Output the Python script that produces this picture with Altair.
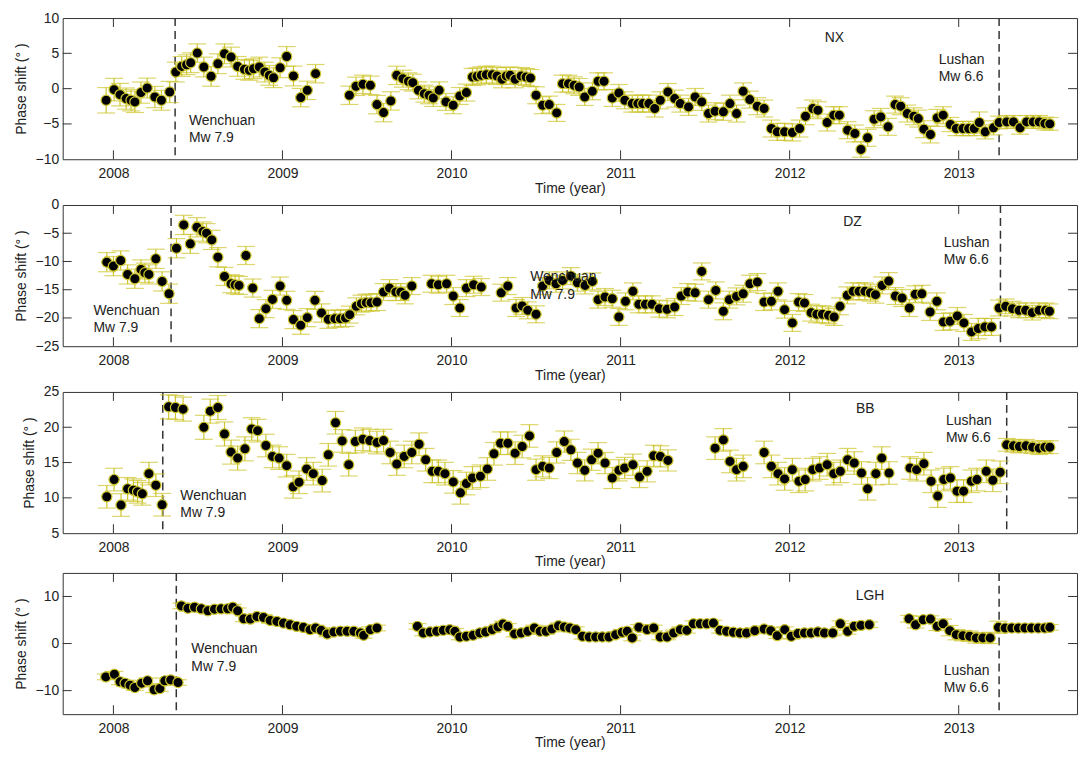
import altair as alt
import pandas as pd

FONT = "Liberation Sans"
YEL = "#cdc52c"
INK = "#222222"
X_DOMAIN = [2007.7, 2013.7]
YEARS = [2008, 2009, 2010, 2011, 2012, 2013]

# (decimal year, phase shift in degrees, error half-length)
nx = [
    (2007.957, -1.65, 1.8), (2008.004, -0.14, 1.6), (2008.039, -0.85, 1.6), (2008.075, -1.41, 1.5),
    (2008.104, -1.65, 1.5), (2008.127, -1.88, 1.5), (2008.163, -0.56, 1.5), (2008.200, 0.09, 1.4),
    (2008.245, -1.18, 1.5), (2008.284, -1.65, 1.4), (2008.333, -0.47, 1.5),
    (2008.369, 2.35, 1.4), (2008.404, 3.15, 1.4), (2008.433, 3.39, 1.4), (2008.457, 3.67, 1.4),
    (2008.496, 5.04, 1.3), (2008.535, 3.06, 1.4), (2008.578, 1.74, 1.4), (2008.618, 3.53, 1.4),
    (2008.657, 4.94, 1.4), (2008.696, 4.47, 1.4), (2008.735, 3.15, 1.4), (2008.775, 2.73, 1.4),
    (2008.804, 2.59, 1.4), (2008.829, 2.82, 1.4), (2008.863, 3.06, 1.4), (2008.896, 2.35, 1.4),
    (2008.922, 1.88, 1.4), (2008.947, 1.55, 1.4), (2008.986, 2.96, 1.4), (2009.025, 4.56, 1.4),
    (2009.065, 1.79, 1.4), (2009.108, -1.27, 1.3), (2009.147, -0.24, 1.3), (2009.196, 2.12, 1.3),
    (2009.396, -0.94, 1.3), (2009.435, 0.33, 1.3), (2009.476, 0.61, 1.3), (2009.520, 0.47, 1.3),
    (2009.559, -2.26, 1.3), (2009.598, -3.39, 1.3), (2009.641, -1.74, 1.3), (2009.676, 1.88, 1.3),
    (2009.712, 1.41, 1.2), (2009.745, 1.04, 1.2), (2009.771, 0.85, 1.2), (2009.804, -0.24, 1.2),
    (2009.839, -0.71, 1.2), (2009.867, -0.94, 1.2), (2009.892, -1.32, 1.2), (2009.927, -0.24, 1.2),
    (2009.967, -1.88, 1.2), (2010.010, -2.35, 1.2), (2010.049, -1.04, 1.2), (2010.088, -0.56, 1.2),
    (2010.124, 1.65, 1.2), (2010.151, 1.74, 1.2), (2010.176, 1.88, 1.2), (2010.206, 1.98, 1.2),
    (2010.241, 1.98, 1.2), (2010.269, 1.79, 1.2), (2010.298, 1.32, 1.2), (2010.324, 1.79, 1.2),
    (2010.347, 1.88, 1.2), (2010.376, 1.32, 1.2), (2010.412, 1.79, 1.2), (2010.441, 1.65, 1.2),
    (2010.467, 1.51, 1.2), (2010.500, -0.94, 1.2), (2010.539, -2.35, 1.2), (2010.578, -2.26, 1.2),
    (2010.622, -3.44, 1.2), (2010.657, 0.71, 1.2), (2010.692, 0.71, 1.2), (2010.725, 0.47, 1.2),
    (2010.755, 0.24, 1.2), (2010.788, -1.18, 1.2), (2010.833, -0.38, 1.2), (2010.867, 1.04, 1.2),
    (2010.902, 1.04, 1.2), (2010.951, -1.32, 1.2), (2010.990, -0.61, 1.2), (2011.025, -1.65, 1.2),
    (2011.069, -2.12, 1.2), (2011.102, -2.12, 1.2), (2011.131, -2.12, 1.2), (2011.167, -2.12, 1.2),
    (2011.202, -2.82, 1.2), (2011.235, -1.65, 1.2), (2011.280, -0.47, 1.2), (2011.320, -1.41, 1.2),
    (2011.353, -2.12, 1.2), (2011.402, -2.59, 1.2), (2011.441, -1.18, 1.2), (2011.480, -1.88, 1.2),
    (2011.520, -3.53, 1.2), (2011.559, -3.20, 1.2), (2011.608, -3.29, 1.2), (2011.647, -2.12, 1.2),
    (2011.686, -3.53, 1.2), (2011.725, -0.38, 1.2), (2011.764, -1.55, 1.2), (2011.809, -2.49, 1.2),
    (2011.849, -2.82, 1.2), (2011.892, -5.65, 1.2), (2011.927, -6.12, 1.2), (2011.970, -6.12, 1.2),
    (2012.016, -6.21, 1.2), (2012.059, -5.65, 1.2), (2012.094, -3.91, 1.2), (2012.137, -2.82, 1.2),
    (2012.167, -3.06, 1.2), (2012.222, -4.80, 1.2), (2012.261, -3.76, 1.2), (2012.294, -3.76, 1.2),
    (2012.343, -5.88, 1.2), (2012.386, -6.35, 1.2), (2012.422, -8.61, 1.1), (2012.461, -6.96, 1.2),
    (2012.500, -4.33, 1.2), (2012.539, -4.00, 1.2), (2012.582, -5.41, 1.2), (2012.624, -2.26, 1.2),
    (2012.657, -2.49, 1.2), (2012.696, -3.53, 1.2), (2012.735, -3.91, 1.2), (2012.761, -4.24, 1.2),
    (2012.794, -5.74, 1.2), (2012.833, -6.49, 1.2), (2012.873, -4.14, 1.2), (2012.908, -3.76, 1.2),
    (2012.951, -5.08, 1.0), (2012.986, -5.65, 1.0), (2013.025, -5.65, 1.0), (2013.059, -5.65, 1.0),
    (2013.092, -5.65, 1.0), (2013.122, -4.80, 1.5), (2013.157, -6.12, 1.0), (2013.206, -5.55, 1.0),
    (2013.239, -4.80, 0.9), (2013.284, -4.71, 0.9), (2013.324, -4.71, 0.9), (2013.363, -5.55, 0.9),
    (2013.402, -4.71, 0.9), (2013.441, -4.71, 0.9), (2013.476, -4.71, 0.9), (2013.510, -4.94, 0.9),
    (2013.539, -4.99, 0.9),
]

dz = [
    (2007.961, -10.12, 1.7), (2008.000, -10.82, 1.7), (2008.043, -9.82, 1.7), (2008.084, -12.29, 1.7),
    (2008.127, -13.06, 1.7), (2008.163, -11.41, 1.7), (2008.186, -12.00, 1.7), (2008.210, -12.29, 1.7),
    (2008.251, -9.53, 1.7), (2008.288, -13.53, 1.7), (2008.329, -15.71, 1.7),
    (2008.373, -7.65, 1.7), (2008.416, -3.53, 1.7), (2008.455, -6.88, 1.7), (2008.494, -3.94, 1.7),
    (2008.529, -4.71, 1.7), (2008.551, -5.00, 1.7), (2008.582, -6.18, 1.7), (2008.618, -9.24, 1.7),
    (2008.657, -12.65, 1.6), (2008.696, -13.94, 1.6), (2008.720, -14.12, 1.6), (2008.743, -14.24, 1.6),
    (2008.784, -8.94, 1.6), (2008.824, -14.71, 1.6), (2008.863, -20.12, 1.6), (2008.902, -18.35, 1.6),
    (2008.941, -16.71, 1.6), (2008.986, -14.35, 1.6), (2009.025, -16.88, 1.6), (2009.065, -20.29, 1.6),
    (2009.108, -21.29, 1.6), (2009.147, -19.94, 1.6), (2009.192, -16.88, 1.6), (2009.231, -19.12, 1.6),
    (2009.271, -20.24, 1.6), (2009.310, -20.12, 1.5), (2009.343, -20.12, 1.5), (2009.373, -20.00, 1.5),
    (2009.398, -19.41, 1.5), (2009.437, -17.94, 1.5), (2009.467, -17.47, 1.5), (2009.496, -17.29, 1.5),
    (2009.524, -17.29, 1.5), (2009.559, -17.18, 1.5), (2009.598, -15.41, 1.5), (2009.633, -14.71, 1.5),
    (2009.671, -15.41, 1.5), (2009.700, -15.41, 1.5), (2009.725, -16.00, 1.5), (2009.765, -14.35, 1.5),
    (2009.882, -13.94, 1.5), (2009.922, -14.12, 1.5), (2009.971, -13.94, 1.5), (2010.010, -16.12, 1.5),
    (2010.049, -18.24, 1.5), (2010.088, -14.71, 1.5), (2010.131, -14.12, 1.5), (2010.176, -14.53, 1.5),
    (2010.294, -15.53, 1.5), (2010.333, -14.35, 1.5), (2010.382, -18.24, 1.5), (2010.418, -17.88, 1.5),
    (2010.451, -18.65, 1.5), (2010.500, -19.35, 1.5), (2010.539, -14.35, 1.5), (2010.578, -13.35, 1.5),
    (2010.618, -13.94, 1.5), (2010.657, -13.35, 1.5), (2010.706, -12.59, 1.5), (2010.745, -13.76, 1.5),
    (2010.790, -14.24, 1.5), (2010.833, -13.53, 1.5), (2010.867, -16.76, 1.5), (2010.908, -16.29, 1.5),
    (2010.951, -16.59, 1.5), (2010.990, -19.82, 1.5), (2011.029, -17.06, 1.5), (2011.073, -15.29, 1.5),
    (2011.108, -17.59, 1.5), (2011.147, -17.59, 1.5), (2011.186, -17.59, 1.5), (2011.229, -18.35, 1.5),
    (2011.275, -18.47, 1.5), (2011.320, -18.06, 1.5), (2011.359, -16.12, 1.5), (2011.398, -15.41, 1.5),
    (2011.441, -15.53, 1.5), (2011.480, -11.76, 1.5), (2011.520, -16.76, 1.5), (2011.563, -15.12, 1.5),
    (2011.608, -18.82, 1.5), (2011.643, -16.76, 1.5), (2011.686, -16.18, 1.5), (2011.725, -15.71, 1.5),
    (2011.765, -13.94, 1.5), (2011.809, -13.65, 1.5), (2011.849, -17.18, 1.5), (2011.892, -17.06, 1.5),
    (2011.931, -15.29, 1.5), (2011.970, -18.53, 1.5), (2012.016, -20.88, 1.5), (2012.053, -17.18, 1.5),
    (2012.088, -17.35, 1.5), (2012.127, -19.06, 1.5), (2012.161, -19.35, 1.5), (2012.194, -19.35, 1.5),
    (2012.230, -19.53, 1.5), (2012.263, -19.82, 1.5), (2012.298, -17.94, 1.5), (2012.341, -16.00, 1.5),
    (2012.375, -15.29, 1.5), (2012.410, -15.29, 1.5), (2012.445, -15.29, 1.5), (2012.478, -15.53, 1.5),
    (2012.508, -15.88, 1.5), (2012.547, -14.24, 1.5), (2012.586, -13.47, 1.5), (2012.626, -16.12, 1.5),
    (2012.665, -16.47, 1.5), (2012.708, -18.24, 1.5), (2012.743, -15.82, 1.5), (2012.782, -15.71, 1.5),
    (2012.831, -18.94, 1.5), (2012.871, -17.06, 1.5), (2012.910, -20.71, 1.5), (2012.949, -20.59, 1.5),
    (2012.992, -19.65, 1.5), (2013.031, -20.88, 1.5), (2013.076, -22.47, 1.5), (2013.116, -21.88, 1.8),
    (2013.155, -21.59, 1.5), (2013.194, -21.59, 1.5), (2013.239, -18.24, 1.4), (2013.278, -17.94, 1.3),
    (2013.318, -18.35, 1.3), (2013.357, -18.65, 1.3), (2013.396, -18.65, 1.3), (2013.435, -19.06, 1.3),
    (2013.475, -18.65, 1.3), (2013.514, -18.65, 1.3), (2013.537, -18.82, 1.3),
]

bb = [
    (2007.961, 10.15, 1.6), (2008.004, 12.59, 1.6), (2008.045, 8.98, 1.6), (2008.084, 11.28, 1.6),
    (2008.118, 11.09, 1.6), (2008.143, 10.85, 1.6), (2008.171, 10.57, 1.6), (2008.210, 13.43, 1.6),
    (2008.251, 11.79, 1.6), (2008.288, 9.03, 1.6),
    (2008.327, 22.89, 1.7), (2008.367, 22.80, 1.7), (2008.412, 22.56, 1.7), (2008.535, 19.99, 1.7),
    (2008.573, 22.28, 1.7), (2008.618, 22.80, 1.7), (2008.657, 19.05, 1.7), (2008.696, 16.48, 1.7),
    (2008.735, 15.63, 1.7), (2008.778, 16.94, 1.7), (2008.818, 19.75, 1.6), (2008.853, 19.52, 1.6),
    (2008.902, 17.41, 1.6), (2008.941, 15.87, 1.6), (2008.980, 15.63, 1.6), (2009.025, 14.56, 1.6),
    (2009.063, 11.56, 1.6), (2009.098, 12.21, 1.6), (2009.143, 14.09, 1.6), (2009.182, 13.43, 1.6),
    (2009.235, 12.45, 1.6), (2009.271, 16.10, 1.6), (2009.314, 20.64, 1.6), (2009.353, 18.07, 1.6),
    (2009.392, 14.70, 1.6), (2009.431, 17.97, 1.6), (2009.476, 18.30, 1.6), (2009.516, 18.11, 1.6),
    (2009.559, 17.83, 1.6), (2009.598, 18.11, 1.6), (2009.637, 16.43, 1.6), (2009.676, 14.79, 1.6),
    (2009.720, 15.87, 1.6), (2009.765, 16.43, 1.6), (2009.808, 17.60, 1.6), (2009.847, 15.40, 1.6),
    (2009.886, 13.76, 1.6), (2009.922, 13.76, 1.6), (2009.961, 13.43, 1.6), (2010.010, 12.26, 1.6),
    (2010.053, 10.71, 1.6), (2010.088, 12.03, 1.6), (2010.124, 12.82, 1.6), (2010.171, 13.06, 1.6),
    (2010.212, 14.09, 1.6), (2010.251, 16.24, 1.6), (2010.290, 17.74, 1.6), (2010.333, 17.74, 1.6),
    (2010.376, 16.33, 1.6), (2010.418, 17.27, 1.6), (2010.461, 18.77, 1.6), (2010.500, 13.99, 1.5),
    (2010.539, 14.46, 1.5), (2010.578, 14.23, 1.5), (2010.622, 16.43, 1.5), (2010.667, 17.97, 1.5),
    (2010.706, 16.80, 1.5), (2010.745, 14.93, 1.5), (2010.788, 13.90, 1.5), (2010.829, 15.40, 1.5),
    (2010.867, 16.33, 1.5), (2010.908, 14.93, 1.5), (2010.951, 12.82, 1.5), (2010.990, 13.90, 1.5),
    (2011.024, 14.23, 1.5), (2011.073, 14.70, 1.5), (2011.112, 12.96, 1.5), (2011.157, 13.76, 1.5),
    (2011.196, 15.96, 1.5), (2011.235, 15.87, 1.5), (2011.280, 15.30, 1.5),
    (2011.559, 17.04, 1.6), (2011.608, 18.21, 1.6), (2011.647, 15.16, 1.6), (2011.686, 13.99, 1.6),
    (2011.725, 14.46, 1.6), (2011.849, 16.43, 1.6), (2011.892, 14.46, 1.6), (2011.931, 13.43, 1.6),
    (2011.970, 12.68, 1.6), (2012.016, 13.99, 1.6), (2012.055, 12.35, 1.6), (2012.092, 12.59, 1.6),
    (2012.137, 13.99, 1.6), (2012.177, 14.23, 1.6), (2012.222, 14.70, 1.6), (2012.261, 13.43, 1.6),
    (2012.300, 13.76, 1.6), (2012.343, 15.40, 1.6), (2012.382, 14.93, 1.6), (2012.425, 13.52, 1.6),
    (2012.461, 11.28, 1.6), (2012.510, 13.43, 1.6), (2012.545, 15.63, 1.6), (2012.588, 13.52, 1.6),
    (2012.712, 14.23, 1.6), (2012.751, 13.99, 1.6), (2012.794, 14.84, 1.6), (2012.837, 12.35, 1.6),
    (2012.876, 10.25, 1.6), (2012.912, 12.59, 1.6), (2012.951, 12.82, 1.6), (2012.990, 10.95, 1.6),
    (2013.029, 10.95, 1.6), (2013.075, 12.35, 1.6), (2013.108, 12.59, 1.6), (2013.163, 13.76, 1.6),
    (2013.202, 12.49, 1.6), (2013.245, 13.62, 1.6), (2013.284, 17.51, 0.9), (2013.324, 17.37, 0.9),
    (2013.359, 17.27, 0.9), (2013.398, 17.37, 0.9), (2013.437, 17.18, 0.9), (2013.476, 17.04, 0.9),
    (2013.510, 17.18, 0.9), (2013.539, 17.18, 0.9),
]

lgh = [
    (2007.955, -7.09, 0.6), (2008.006, -6.53, 0.6), (2008.039, -8.14, 0.6), (2008.069, -8.42, 0.6),
    (2008.098, -8.84, 0.6), (2008.127, -9.33, 0.6), (2008.167, -8.42, 0.6), (2008.202, -7.93, 0.6),
    (2008.241, -9.82, 0.6), (2008.275, -9.54, 0.6), (2008.304, -7.93, 0.6), (2008.339, -7.72, 0.6),
    (2008.382, -8.28, 0.6),
    (2008.402, 8.00, 0.6), (2008.441, 7.51, 0.6), (2008.480, 7.72, 0.6), (2008.520, 7.37, 0.6),
    (2008.559, 6.95, 0.6), (2008.598, 7.30, 0.6), (2008.637, 7.37, 0.6), (2008.676, 7.37, 0.6),
    (2008.706, 7.72, 0.6), (2008.735, 6.95, 0.6), (2008.771, 5.26, 0.6), (2008.810, 5.19, 0.6),
    (2008.849, 5.75, 0.6), (2008.888, 5.54, 0.6), (2008.927, 4.91, 0.6), (2008.967, 4.70, 0.6),
    (2009.006, 4.35, 0.6), (2009.045, 4.00, 0.6), (2009.084, 3.65, 0.6), (2009.124, 3.44, 0.6),
    (2009.163, 2.95, 0.6), (2009.196, 3.30, 0.6), (2009.229, 2.81, 0.6), (2009.265, 2.04, 0.6),
    (2009.304, 2.46, 0.6), (2009.343, 2.60, 0.6), (2009.382, 2.60, 0.6), (2009.422, 2.60, 0.6),
    (2009.461, 2.25, 0.6), (2009.480, 1.75, 0.6), (2009.520, 2.95, 0.6), (2009.559, 3.30, 0.6),
    (2009.798, 3.65, 0.6), (2009.833, 2.25, 0.6), (2009.873, 2.46, 0.6), (2009.912, 2.60, 0.6),
    (2009.951, 2.81, 0.6), (2009.990, 2.95, 0.6), (2010.020, 2.60, 0.6), (2010.049, 1.40, 0.6),
    (2010.088, 1.54, 0.6), (2010.127, 1.75, 0.6), (2010.167, 2.25, 0.6), (2010.202, 2.46, 0.6),
    (2010.241, 2.95, 0.6), (2010.275, 3.51, 0.6), (2010.304, 4.14, 0.6), (2010.333, 3.65, 0.6),
    (2010.373, 2.04, 0.6), (2010.412, 2.25, 0.6), (2010.451, 2.60, 0.6), (2010.490, 3.30, 0.6),
    (2010.524, 2.60, 0.6), (2010.559, 2.60, 0.6), (2010.594, 3.09, 0.6), (2010.633, 3.79, 0.6),
    (2010.667, 3.51, 0.6), (2010.700, 3.30, 0.6), (2010.735, 2.95, 0.6), (2010.775, 1.54, 0.6),
    (2010.814, 1.40, 0.6), (2010.853, 1.40, 0.6), (2010.892, 1.40, 0.6), (2010.931, 1.40, 0.6),
    (2010.971, 1.89, 0.6), (2011.010, 2.39, 0.6), (2011.039, 2.60, 0.6), (2011.069, 1.19, 0.6),
    (2011.108, 3.44, 0.6), (2011.157, 2.95, 0.6), (2011.196, 3.30, 0.6), (2011.235, 1.40, 0.6),
    (2011.275, 1.40, 0.6), (2011.314, 2.25, 0.6), (2011.353, 2.95, 0.6), (2011.392, 2.81, 0.6),
    (2011.431, 4.21, 0.6), (2011.471, 4.21, 0.6), (2011.510, 4.21, 0.6), (2011.549, 4.35, 0.6),
    (2011.588, 2.81, 0.6), (2011.627, 2.60, 0.6), (2011.667, 2.39, 0.6), (2011.706, 2.25, 0.6),
    (2011.745, 2.25, 0.6), (2011.794, 2.74, 0.6), (2011.849, 3.09, 0.6), (2011.888, 2.74, 0.6),
    (2011.927, 1.68, 0.6), (2011.971, 2.95, 0.6), (2012.010, 1.54, 0.6), (2012.049, 2.11, 0.6),
    (2012.088, 2.25, 0.6), (2012.127, 2.25, 0.6), (2012.167, 2.46, 0.6), (2012.206, 2.25, 0.6),
    (2012.255, 2.25, 0.6), (2012.300, 4.21, 0.6), (2012.343, 2.60, 0.6), (2012.382, 3.65, 0.6),
    (2012.422, 3.86, 0.6), (2012.471, 4.00, 0.6),
    (2012.706, 5.26, 0.7), (2012.745, 4.00, 0.7), (2012.790, 5.05, 0.7), (2012.833, 5.19, 0.7),
    (2012.873, 3.65, 0.9), (2012.908, 4.21, 1.0), (2012.947, 2.74, 1.1), (2012.986, 1.89, 1.1),
    (2013.025, 1.68, 1.1), (2013.065, 1.54, 1.1), (2013.104, 1.19, 1.1), (2013.143, 1.19, 1.1),
    (2013.186, 1.19, 1.2), (2013.235, 3.44, 1.3), (2013.275, 3.30, 0.7), (2013.314, 3.30, 0.6),
    (2013.353, 3.30, 0.6), (2013.392, 3.30, 0.6), (2013.431, 3.30, 0.6), (2013.471, 3.30, 0.6),
    (2013.510, 3.30, 0.6), (2013.539, 3.44, 0.6),
]

# panel settings: name, data, y-domain, y-ticks, quake lines (Wenchuan, Lushan)
panels = [
    dict(name="NX", data=nx, ydom=[-10, 10], yticks=[-10, -5, 0, 5, 10],
         quakes=[2008.365, 2013.239], station=(2012.265, 7.15),
         texts=[(2008.447, -4.61, "Wenchuan"), (2008.447, -7.06, "Mw 7.9"),
                (2012.882, 4.09, "Lushan"), (2012.882, 1.65, "Mw 6.6")]),
    dict(name="DZ", data=dz, ydom=[-25, 0], yticks=[-25, -20, -15, -10, -5, 0],
         quakes=[2008.341, 2013.247], station=(2012.372, -3.06),
         texts=[(2007.882, -18.76, "Wenchuan"), (2007.882, -21.76, "Mw 7.9"),
                (2010.465, -12.82, "Wenchuan"), (2010.465, -16.0, "Mw 7.9"),
                (2012.912, -6.71, "Lushan"), (2012.912, -9.82, "Mw 6.6")]),
    dict(name="BB", data=bb, ydom=[5, 25], yticks=[5, 10, 15, 20, 25],
         quakes=[2008.292, 2013.284], station=(2012.447, 22.52),
         texts=[(2008.396, 10.25, "Wenchuan"), (2008.396, 7.90, "Mw 7.9"),
                (2012.925, 20.93, "Lushan"), (2012.925, 18.44, "Mw 6.6")]),
    dict(name="LGH", data=lgh, ydom=[-15, 15], yticks=[-10, 0, 10],
         quakes=[2008.372, 2013.239], station=(2012.476, 10.1),
         texts=[(2008.461, -1.26, "Wenchuan"), (2008.461, -4.91, "Mw 7.9"),
                (2012.912, -5.82, "Lushan"), (2012.912, -9.54, "Mw 6.6")]),
]

W, H = 1020, 142
TICK_PX = 9
AX_STYLE = dict(labelFont=FONT, titleFont=FONT, labelFontSize=14, titleFontSize=14,
                titleFontWeight="normal", labelColor=INK, titleColor=INK,
                ticks=False, domain=False, grid=False)


def make_panel(p):
    ydom = p["ydom"]
    xscale = alt.Scale(domain=X_DOMAIN, nice=False, zero=False)
    yscale = alt.Scale(domain=ydom, nice=False, zero=False)
    xaxis = alt.Axis(values=YEARS, format="d", title="Time (year)", labelPadding=7, titlePadding=1,
                     **AX_STYLE)
    yaxis = alt.Axis(values=p["yticks"], title="Phase shift (° )", labelPadding=4, titlePadding=7,
                     **AX_STYLE)

    def X(f):
        return alt.X(f, type="quantitative", scale=xscale, axis=xaxis)

    def Y(f):
        return alt.Y(f, type="quantitative", scale=yscale, axis=yaxis)

    df = pd.DataFrame(p["data"], columns=["t", "v", "e"])
    df["lo"] = df["v"] - df["e"]
    df["hi"] = df["v"] + df["e"]
    base = alt.Chart(df)

    bars = base.mark_rule(color=YEL, strokeWidth=1.2).encode(x=X("t"), y=Y("lo"), y2="hi:Q")
    cap_lo = base.mark_tick(color=YEL, orient="horizontal", size=18, thickness=1.2).encode(x=X("t"), y=Y("lo"))
    cap_hi = base.mark_tick(color=YEL, orient="horizontal", size=18, thickness=1.2).encode(x=X("t"), y=Y("hi"))
    pts = base.mark_circle(size=105, color="black", opacity=1, stroke=YEL, strokeWidth=1.2).encode(
        x=X("t"), y=Y("v"))

    qdf = pd.DataFrame({"q": p["quakes"]})
    quake = alt.Chart(qdf).mark_rule(color="#333333", strokeWidth=1.5, strokeDash=[8, 5]).encode(x=X("q"))

    tdf = pd.DataFrame(p["texts"], columns=["tx", "ty", "label"])
    texts = alt.Chart(tdf).mark_text(align="left", baseline="middle", fontSize=14, font=FONT,
                                     color=INK).encode(x=X("tx"), y=Y("ty"), text="label:N")
    sdf = pd.DataFrame({"tx": [p["station"][0]], "ty": [p["station"][1]], "label": [p["name"]]})
    station = alt.Chart(sdf).mark_text(align="center", baseline="middle", fontSize=14, font=FONT,
                                       color=INK).encode(x=X("tx"), y=Y("ty"), text="label:N")

    # inward frame ticks
    dy = (ydom[1] - ydom[0]) * TICK_PX / H
    dx = (X_DOMAIN[1] - X_DOMAIN[0]) * TICK_PX / W
    rows = []
    for yr in YEARS:
        rows.append((yr, yr, ydom[0], ydom[0] + dy))
        rows.append((yr, yr, ydom[1], ydom[1] - dy))
    for yv in p["yticks"]:
        if ydom[0] < yv < ydom[1]:
            rows.append((X_DOMAIN[0], X_DOMAIN[0] + dx, yv, yv))
            rows.append((X_DOMAIN[1], X_DOMAIN[1] - dx, yv, yv))
    kdf = pd.DataFrame(rows, columns=["x1", "x2", "y1", "y2"])
    frame_ticks = alt.Chart(kdf).mark_rule(color="#333333", strokeWidth=1).encode(
        x=X("x1"), x2="x2:Q", y=Y("y1"), y2="y2:Q")

    return alt.layer(frame_ticks, quake, bars, cap_lo, cap_hi, pts, texts, station).properties(
        width=W, height=H)


chart = alt.vconcat(*[make_panel(p) for p in panels], spacing=1).properties(
    padding={"top": 0, "left": 5, "right": 5, "bottom": 5},
    background="white",
).configure_view(stroke="#333333", strokeWidth=1)

chart.save("out.html", embed_options={"renderer": "svg", "actions": False})
